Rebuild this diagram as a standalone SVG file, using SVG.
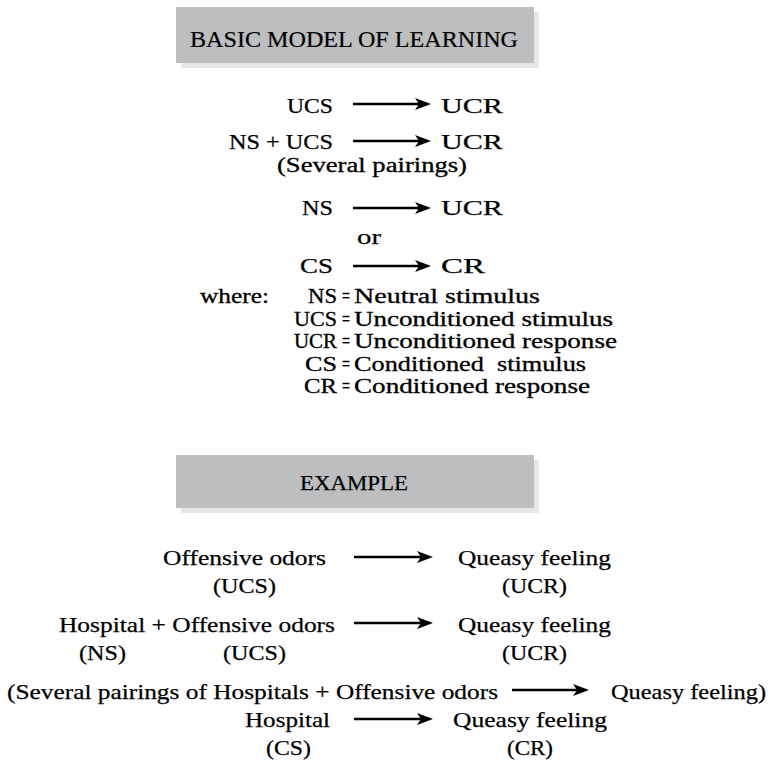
<svg xmlns="http://www.w3.org/2000/svg" width="773" height="766" viewBox="0 0 773 766">
  <style>
    .t { font-family: "Liberation Serif", "Times New Roman", serif; font-size: 22px; fill: #000; stroke: #000; stroke-width: 0.25; }
    .s { font-family: "Liberation Serif", "Times New Roman", serif; font-size: 20px; fill: #000; stroke: #000; stroke-width: 0.3; }
    .h { font-family: "Liberation Serif", "Times New Roman", serif; font-size: 24px; fill: #000; stroke: #000; stroke-width: 0.2; }
    .box { fill: #bdbec0; }
    .shadow { fill: #e5e6e7; }
    .arrow { stroke: #000; stroke-width: 2.4; fill: none; marker-end: url(#head); }
  </style>
  <defs>
    <marker id="head" markerUnits="userSpaceOnUse" viewBox="0 0 16 12" refX="4" refY="6" markerWidth="16" markerHeight="12" orient="auto">
      <path d="M0,0 L16,6 L0,12 L4,6 Z" fill="#000"/>
    </marker>
  </defs>
  <rect width="773" height="766" fill="#fff"/>

  <g id="title-box">
    <rect class="shadow" x="181" y="12" width="358" height="56"/>
    <rect class="box" x="176" y="7" width="358" height="56"/>
    <text class="h" x="190" y="47" textLength="328" lengthAdjust="spacingAndGlyphs">BASIC MODEL OF LEARNING</text>
  </g>

  <g id="model">
    <text class="t" x="287" y="113" textLength="46" lengthAdjust="spacingAndGlyphs">UCS</text>
    <text class="t" x="441" y="113" textLength="62" lengthAdjust="spacingAndGlyphs">UCR</text>
    <text class="t" x="229" y="149" textLength="104" lengthAdjust="spacingAndGlyphs">NS + UCS</text>
    <text class="t" x="441" y="149" textLength="62" lengthAdjust="spacingAndGlyphs">UCR</text>
    <text class="s" x="277" y="172" textLength="190" lengthAdjust="spacingAndGlyphs">(Several pairings)</text>
    <text class="t" x="302" y="215" textLength="31" lengthAdjust="spacingAndGlyphs">NS</text>
    <text class="t" x="441" y="215" textLength="62" lengthAdjust="spacingAndGlyphs">UCR</text>
    <text class="t" x="357" y="244" textLength="24" lengthAdjust="spacingAndGlyphs">or</text>
    <text class="t" x="300" y="273" textLength="33" lengthAdjust="spacingAndGlyphs">CS</text>
    <text class="t" x="441" y="273" textLength="44" lengthAdjust="spacingAndGlyphs">CR</text>
  </g>

  <g id="legend">
    <text class="s" x="200" y="303" textLength="69" lengthAdjust="spacingAndGlyphs">where:</text>
    <text class="s" x="308" y="303" textLength="29" lengthAdjust="spacingAndGlyphs">NS</text>
    <text class="s" x="294" y="325.5" textLength="43" lengthAdjust="spacingAndGlyphs">UCS</text>
    <text class="s" x="294" y="348" textLength="43" lengthAdjust="spacingAndGlyphs">UCR</text>
    <text class="s" x="305" y="370.5" textLength="32" lengthAdjust="spacingAndGlyphs">CS</text>
    <text class="s" x="304" y="393" textLength="33" lengthAdjust="spacingAndGlyphs">CR</text>
    <text class="s" x="342" y="303" textLength="8" lengthAdjust="spacingAndGlyphs">=</text>
    <text class="s" x="342" y="325.5" textLength="8" lengthAdjust="spacingAndGlyphs">=</text>
    <text class="s" x="342" y="348" textLength="8" lengthAdjust="spacingAndGlyphs">=</text>
    <text class="s" x="342" y="370.5" textLength="8" lengthAdjust="spacingAndGlyphs">=</text>
    <text class="s" x="342" y="393" textLength="8" lengthAdjust="spacingAndGlyphs">=</text>
    <text class="s" x="354" y="303" textLength="186" lengthAdjust="spacingAndGlyphs">Neutral stimulus</text>
    <text class="s" x="354" y="325.5" textLength="259" lengthAdjust="spacingAndGlyphs">Unconditioned stimulus</text>
    <text class="s" x="354" y="348" textLength="263" lengthAdjust="spacingAndGlyphs">Unconditioned response</text>
    <text class="s" x="354" y="370.5" textLength="232" lengthAdjust="spacingAndGlyphs" xml:space="preserve">Conditioned  stimulus</text>
    <text class="s" x="354" y="393" textLength="236" lengthAdjust="spacingAndGlyphs">Conditioned response</text>
  </g>

  <g id="example-box">
    <rect class="shadow" x="181" y="460" width="358" height="53"/>
    <rect class="box" x="176" y="455" width="358" height="53"/>
    <text class="t" x="300" y="490" textLength="108" lengthAdjust="spacingAndGlyphs">EXAMPLE</text>
  </g>

  <g id="example">
    <text class="t" x="163" y="565" textLength="163" lengthAdjust="spacingAndGlyphs">Offensive odors</text>
    <text class="t" x="213" y="593" textLength="63" lengthAdjust="spacingAndGlyphs">(UCS)</text>
    <text class="t" x="458" y="565" textLength="153" lengthAdjust="spacingAndGlyphs">Queasy feeling</text>
    <text class="t" x="502" y="593" textLength="65" lengthAdjust="spacingAndGlyphs">(UCR)</text>

    <text class="t" x="59" y="632" textLength="276" lengthAdjust="spacingAndGlyphs">Hospital + Offensive odors</text>
    <text class="t" x="79" y="660" textLength="47" lengthAdjust="spacingAndGlyphs">(NS)</text>
    <text class="t" x="223" y="660" textLength="63" lengthAdjust="spacingAndGlyphs">(UCS)</text>
    <text class="t" x="458" y="632" textLength="153" lengthAdjust="spacingAndGlyphs">Queasy feeling</text>
    <text class="t" x="502" y="660" textLength="65" lengthAdjust="spacingAndGlyphs">(UCR)</text>

    <text class="t" x="7" y="699" textLength="491" lengthAdjust="spacingAndGlyphs">(Several pairings of Hospitals + Offensive odors</text>
    <text class="t" x="611" y="699" textLength="155" lengthAdjust="spacingAndGlyphs">Queasy feeling)</text>

    <text class="t" x="245" y="727" textLength="85" lengthAdjust="spacingAndGlyphs">Hospital</text>
    <text class="t" x="266" y="755" textLength="45" lengthAdjust="spacingAndGlyphs">(CS)</text>
    <text class="t" x="453" y="727" textLength="154" lengthAdjust="spacingAndGlyphs">Queasy feeling</text>
    <text class="t" x="507" y="755" textLength="46" lengthAdjust="spacingAndGlyphs">(CR)</text>
  </g>

  <g id="connectors">
    <line class="arrow" x1="353" y1="104" x2="419" y2="104"/>
    <line class="arrow" x1="353" y1="141" x2="419" y2="141"/>
    <line class="arrow" x1="353" y1="208" x2="419" y2="208"/>
    <line class="arrow" x1="353" y1="266" x2="419" y2="266"/>
    <line class="arrow" x1="354" y1="557" x2="421" y2="557"/>
    <line class="arrow" x1="354" y1="623" x2="421" y2="623"/>
    <line class="arrow" x1="512" y1="690" x2="577" y2="690"/>
    <line class="arrow" x1="354" y1="719" x2="421" y2="719"/>
  </g>
</svg>
